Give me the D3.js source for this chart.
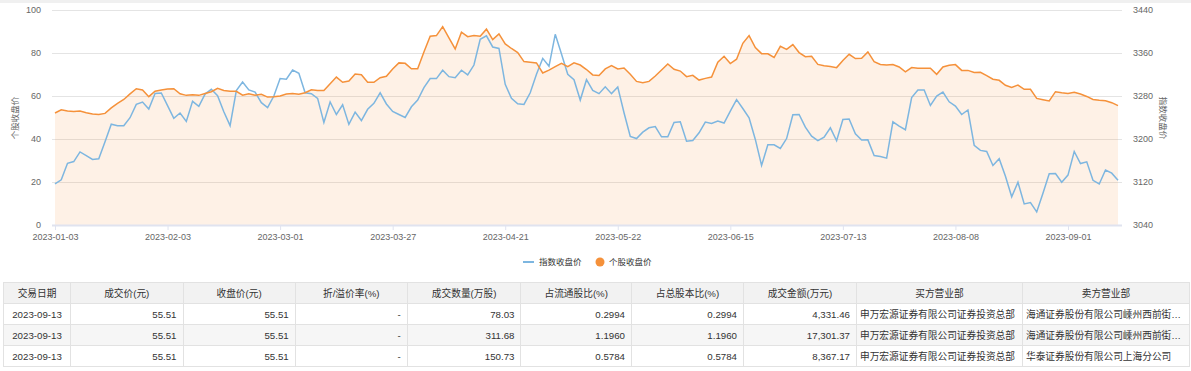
<!DOCTYPE html>
<html>
<head>
<meta charset="utf-8">
<script src="https://cdn.jsdelivr.net/npm/d3@7"></script>
<style>
body { margin: 0; background: #fff; font-family: "Liberation Sans", "Noto Sans CJK SC", sans-serif; }
#wrap { position: relative; width: 1191px; height: 371px; overflow: hidden; }
#chart { position: absolute; left: 0; top: 0; }
table { position: absolute; left: 3px; top: 282px; width: 1186px; border-collapse: collapse; table-layout: fixed;
        font-size: 9.7px; color: #333; }
th, td { border: 1px solid #e2e2e2; height: 21px; padding: 0 6px; white-space: nowrap; overflow: hidden;
         text-overflow: ellipsis; box-sizing: border-box; }
th { background: #f2f2f2; font-weight: normal; text-align: center; color: #333; }
td.num { text-align: right; }
td.ctr { text-align: center; }
td.txt { text-align: left; padding: 0 2px 0 3px; }
tbody tr:nth-child(even) td { background: #f6f6f6; }
</style>
</head>
<body>
<div id="wrap">
  <div id="chart"></div>
  <table id="tbl"></table>
</div>
<script>
// trading days
var dates = [
  "2023-01-03","2023-01-04","2023-01-05","2023-01-06","2023-01-09","2023-01-10","2023-01-11","2023-01-12","2023-01-13",
  "2023-01-16","2023-01-17","2023-01-18","2023-01-19","2023-01-20","2023-01-30","2023-01-31",
  "2023-02-01","2023-02-02","2023-02-03","2023-02-06","2023-02-07","2023-02-08","2023-02-09","2023-02-10","2023-02-13",
  "2023-02-14","2023-02-15","2023-02-16","2023-02-17","2023-02-20","2023-02-21","2023-02-22","2023-02-23","2023-02-24",
  "2023-02-27","2023-02-28",
  "2023-03-01","2023-03-02","2023-03-03","2023-03-06","2023-03-07","2023-03-08","2023-03-09","2023-03-10","2023-03-13",
  "2023-03-14","2023-03-15","2023-03-16","2023-03-17","2023-03-20","2023-03-21","2023-03-22","2023-03-23","2023-03-24",
  "2023-03-27","2023-03-28","2023-03-29","2023-03-30","2023-03-31",
  "2023-04-03","2023-04-04","2023-04-06","2023-04-07","2023-04-10","2023-04-11","2023-04-12","2023-04-13","2023-04-14",
  "2023-04-17","2023-04-18","2023-04-19","2023-04-20","2023-04-21","2023-04-24","2023-04-25","2023-04-26","2023-04-27",
  "2023-04-28",
  "2023-05-04","2023-05-05","2023-05-08","2023-05-09","2023-05-10","2023-05-11","2023-05-12","2023-05-15","2023-05-16",
  "2023-05-17","2023-05-18","2023-05-19","2023-05-22","2023-05-23","2023-05-24","2023-05-25","2023-05-26","2023-05-29",
  "2023-05-30","2023-05-31",
  "2023-06-01","2023-06-02","2023-06-05","2023-06-06","2023-06-07","2023-06-08","2023-06-09","2023-06-12","2023-06-13",
  "2023-06-14","2023-06-15","2023-06-16","2023-06-19","2023-06-20","2023-06-21","2023-06-26","2023-06-27","2023-06-28",
  "2023-06-29","2023-06-30",
  "2023-07-03","2023-07-04","2023-07-05","2023-07-06","2023-07-07","2023-07-10","2023-07-11","2023-07-12","2023-07-13",
  "2023-07-14","2023-07-17","2023-07-18","2023-07-19","2023-07-20","2023-07-21","2023-07-24","2023-07-25","2023-07-26",
  "2023-07-27","2023-07-28","2023-07-31",
  "2023-08-01","2023-08-02","2023-08-03","2023-08-04","2023-08-07","2023-08-08","2023-08-09","2023-08-10","2023-08-11",
  "2023-08-14","2023-08-15","2023-08-16","2023-08-17","2023-08-18","2023-08-21","2023-08-22","2023-08-23","2023-08-24",
  "2023-08-25","2023-08-28","2023-08-29","2023-08-30","2023-08-31",
  "2023-09-01","2023-09-04","2023-09-05","2023-09-06","2023-09-07","2023-09-08","2023-09-11","2023-09-12","2023-09-13"
];

// 个股收盘价 (left axis)
var stockClose = [
  52.1,53.6,53.0,52.8,53.0,52.2,51.6,51.4,51.9,54.5,56.6,58.4,61.0,63.4,62.8,59.7,62.2,62.8,63.2,63.4,
  61.0,60.3,60.6,60.3,61.2,62.0,63.6,62.6,62.2,62.2,60.4,61.0,60.4,60.8,59.5,59.7,60.0,60.9,61.2,60.8,
  61.5,62.9,62.6,62.6,65.7,68.8,66.4,67.0,70.2,69.9,66.4,66.4,68.5,69.2,72.6,75.4,75.2,72.7,72.7,80.5,
  87.8,88.1,92.3,87.0,81.9,89.7,87.6,88.1,87.8,91.1,86.2,88.9,84.2,82.1,80.2,76.0,75.7,75.4,70.7,72.0,
  73.7,75.2,73.7,75.4,74.4,72.3,69.8,69.5,72.6,74.1,72.6,73.0,70.1,66.8,66.2,66.8,69.3,72.1,74.9,72.4,
  71.6,69.0,69.6,67.4,68.2,68.8,75.7,78.5,75.1,77.1,84.5,88.1,82.5,79.7,79.6,77.9,83.1,81.7,83.9,80.2,
  78.3,78.5,74.7,74.1,73.7,73.2,76.5,79.4,77.4,77.5,80.5,76.0,74.7,74.4,74.6,73.5,71.2,73.2,72.9,72.9,
  72.9,70.1,73.5,74.3,74.6,71.9,71.9,70.9,71.0,69.5,67.8,67.3,65.0,64.0,65.1,63.1,63.1,58.9,58.3,57.7,
  62.0,61.5,61.2,61.7,60.9,59.8,58.4,58.0,57.8,56.9,55.51
];

// 指数收盘价 (right axis)
var indexClose = [
  3116.4,3124.0,3154.8,3158.0,3176.0,3169.2,3162.0,3163.2,3194.8,3227.6,3224.8,3224.8,3239.6,3264.4,3268.8,3255.6,
  3284.8,3285.6,3262.0,3238.4,3248.4,3232.8,3270.0,3260.8,3283.6,3292.4,3280.4,3250.8,3224.8,3290.0,3306.0,3291.2,
  3287.2,3267.6,3258.4,3280.0,3312.4,3311.2,3328.4,3322.4,3286.0,3284.4,3275.6,3230.8,3268.8,3245.6,3263.6,3227.2,
  3250.0,3234.4,3255.2,3266.4,3286.0,3265.2,3251.2,3245.6,3240.0,3260.0,3272.4,3295.6,3312.4,3312.4,3328.0,3316.0,
  3314.0,3328.0,3319.2,3337.6,3385.6,3392.0,3371.2,3368.4,3301.6,3275.6,3265.6,3264.4,3286.0,3320.4,3350.0,3335.2,
  3394.8,3358.0,3320.4,3310.4,3272.4,3310.4,3290.4,3284.4,3297.2,3284.4,3296.8,3248.8,3204.8,3200.8,3212.8,3220.8,
  3223.2,3204.0,3204.0,3230.8,3232.0,3196.0,3197.2,3211.6,3231.6,3228.8,3233.2,3229.6,3252.0,3273.2,3256.8,3239.6,
  3199.2,3150.8,3189.2,3189.2,3182.4,3200.8,3245.2,3245.6,3222.0,3205.2,3196.8,3203.6,3220.8,3196.8,3236.4,3237.2,
  3209.6,3198.0,3198.4,3169.2,3167.6,3164.4,3232.0,3224.0,3217.2,3277.2,3291.2,3291.2,3262.4,3280.0,3287.2,3269.2,
  3261.2,3245.6,3254.0,3188.4,3178.8,3176.8,3150.8,3163.2,3130.8,3092.4,3119.6,3079.2,3081.6,3064.4,3099.2,3135.2,
  3135.6,3119.6,3132.8,3176.8,3154.4,3157.6,3123.2,3116.4,3142.4,3136.4,3123.2
];

var leftTicks = [0, 20, 40, 60, 80, 100];
var rightTicks = [3040, 3120, 3200, 3280, 3360, 3440];
var labelEvery = 18;

// 大宗交易 table
var tblHeaders = ["交易日期", "成交价(元)", "收盘价(元)", "折/溢价率(%)", "成交数量(万股)", "占流通股比(%)",
                  "占总股本比(%)", "成交金额(万元)", "买方营业部", "卖方营业部"];
var tblDate = ["2023-09-13", "2023-09-13", "2023-09-13"];
var tblPrice = ["55.51", "55.51", "55.51"];
var tblClose = ["55.51", "55.51", "55.51"];
var tblPremium = ["-", "-", "-"];
var tblVolume = ["78.03", "311.68", "150.73"];
var tblFloatPct = ["0.2994", "1.1960", "0.5784"];
var tblTotalPct = ["0.2994", "1.1960", "0.5784"];
var tblAmount = ["4,331.46", "17,301.37", "8,367.17"];
var tblBuyer = ["申万宏源证券有限公司证券投资总部", "申万宏源证券有限公司证券投资总部", "申万宏源证券有限公司证券投资总部"];
var tblSeller = ["海通证券股份有限公司嵊州西前街证券营业部", "海通证券股份有限公司嵊州西前街证券营业部", "华泰证券股份有限公司上海分公司"];

var colWidths = [67, 112.5, 112.2, 112.1, 113.7, 110.5, 112, 113, 166, 167];
var colClass = ["ctr", "num", "num", "num", "num", "num", "num", "num", "txt", "txt"];

var blue = "#7db6e0", orange = "#f5913a";

var width = 1191, height = 282;
var svg = d3.select("#chart").append("svg")
    .attr("width", width)
    .attr("height", height);

svg.append("rect").attr("width", width).attr("height", 3).attr("fill", "#f0f0f0");

var x = d3.scalePoint().domain(dates).range([55, 1118]);
var yL = d3.scaleLinear().domain([0, 100]).range([225, 10]);
var yR = d3.scaleLinear().domain([3040, 3440]).range([225, 10]);

// grid lines
svg.append("g").selectAll("line")
    .data(leftTicks.slice(1))
    .join("line")
    .attr("x1", 52).attr("x2", 1122)
    .attr("y1", d => Math.round(yL(d)) + 0.5)
    .attr("y2", d => Math.round(yL(d)) + 0.5)
    .attr("stroke", "#e4e4e4");

// area under stock line
var area = d3.area()
    .x((d, i) => x(dates[i]))
    .y0(yL(0))
    .y1(d => yL(d));
svg.append("path")
    .datum(stockClose)
    .attr("d", area)
    .attr("fill", orange)
    .attr("fill-opacity", 0.13);

// x axis
var xAxis = d3.axisBottom(x)
    .tickValues(dates.filter((d, i) => i % labelEvery === 0))
    .tickSize(5)
    .tickPadding(4);
var gx = svg.append("g").attr("transform", "translate(0,225)").call(xAxis);
gx.select(".domain").remove();
gx.append("line").attr("x1", 52).attr("x2", 1122).attr("y1", 0.5).attr("y2", 0.5)
    .attr("stroke", "#e0e3ef").attr("stroke-width", 2);
gx.selectAll(".tick line").attr("stroke", "#e0e3ef");
gx.selectAll(".tick text").attr("fill", "#666").style("font-size", "9px")
    .style("font-family", "'Liberation Sans', sans-serif");

// y axes
var gl = svg.append("g").attr("transform", "translate(52,0)")
    .call(d3.axisLeft(yL).tickValues(leftTicks).tickSize(0).tickPadding(11));
var gr = svg.append("g").attr("transform", "translate(1122,0)")
    .call(d3.axisRight(yR).tickValues(rightTicks).tickFormat(d3.format("d")).tickSize(0).tickPadding(11));
[gl, gr].forEach(function(g) {
    g.select(".domain").remove();
    g.selectAll("text").attr("fill", "#666").style("font-size", "9px")
        .style("font-family", "'Liberation Sans', sans-serif");
});

// axis names
svg.append("text")
    .attr("transform", "translate(15,118) rotate(-90)")
    .attr("text-anchor", "middle").attr("dominant-baseline", "central")
    .attr("fill", "#666").style("font-size", "8.5px")
    .text("个股收盘价");
svg.append("text")
    .attr("transform", "translate(1163,118) rotate(90)")
    .attr("text-anchor", "middle").attr("dominant-baseline", "central")
    .attr("fill", "#666").style("font-size", "8.5px")
    .text("指数收盘价");

// lines
var stockLine = d3.line().x((d, i) => x(dates[i])).y(d => yL(d));
var indexLine = d3.line().x((d, i) => x(dates[i])).y(d => yR(d));

svg.append("path")
    .datum(indexClose)
    .attr("d", indexLine)
    .attr("fill", "none")
    .attr("stroke", blue)
    .attr("stroke-width", 1.5);

svg.append("path")
    .datum(stockClose)
    .attr("d", stockLine)
    .attr("fill", "none")
    .attr("stroke", orange)
    .attr("stroke-width", 1.5);

// legend
var lg = svg.append("g").attr("transform", "translate(0,262)");
lg.append("line").attr("x1", 523).attr("x2", 534).attr("y1", 0).attr("y2", 0)
    .attr("stroke", blue).attr("stroke-width", 2);
lg.append("text").attr("x", 539).attr("y", 0).attr("dominant-baseline", "central")
    .attr("fill", "#333").style("font-size", "8.5px").text("指数收盘价");
lg.append("circle").attr("cx", 600).attr("cy", 0).attr("r", 4.5).attr("fill", orange);
lg.append("text").attr("x", 609).attr("y", 0).attr("dominant-baseline", "central")
    .attr("fill", "#333").style("font-size", "8.5px").text("个股收盘价");

// table
var tbl = d3.select("#tbl");
tbl.append("colgroup").selectAll("col").data(colWidths).join("col").style("width", d => d + "px");
tbl.append("thead").append("tr").selectAll("th").data(tblHeaders).join("th").text(d => d);
var rows = tblDate.map(function(d, i) {
    return [d, tblPrice[i], tblClose[i], tblPremium[i], tblVolume[i], tblFloatPct[i],
            tblTotalPct[i], tblAmount[i], tblBuyer[i], tblSeller[i]];
});
tbl.append("tbody").selectAll("tr").data(rows).join("tr")
    .selectAll("td").data(d => d).join("td")
    .attr("class", (d, i) => colClass[i])
    .text(d => d);
</script>
</body>
</html>
